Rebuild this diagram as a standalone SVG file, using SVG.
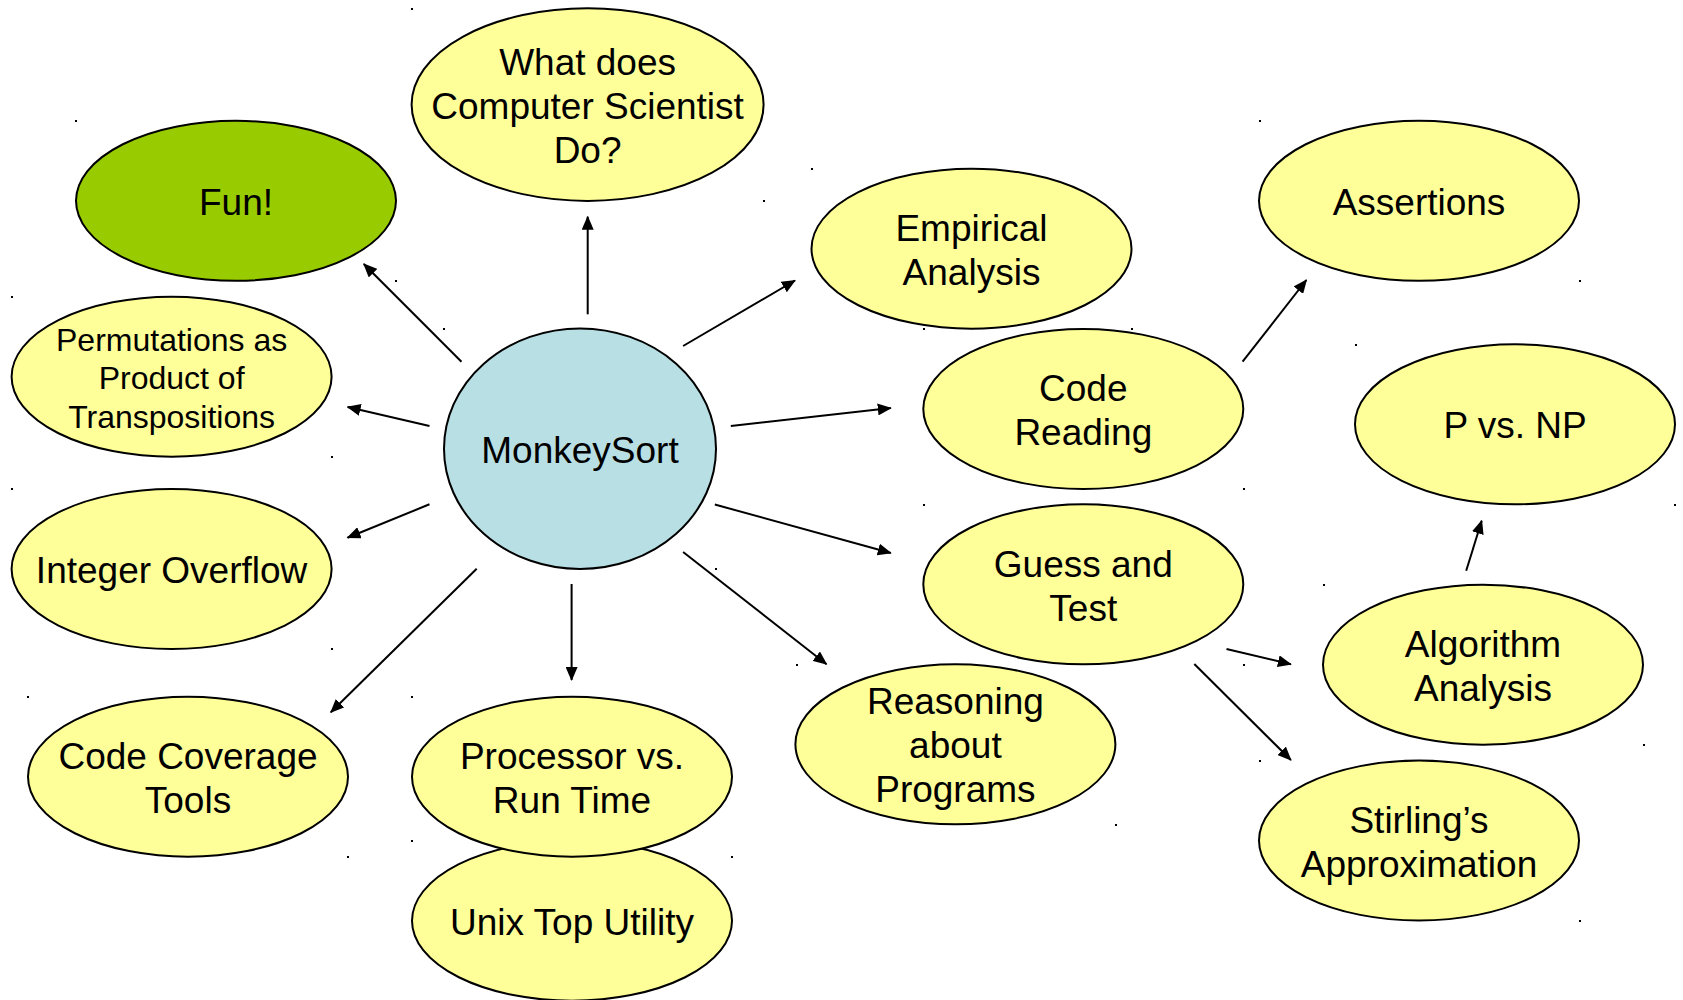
<svg xmlns="http://www.w3.org/2000/svg" width="1683" height="1000" viewBox="0 0 1683 1000">
<style>
.n{fill:#FFFF99;stroke:#000;stroke-width:2}
.g{fill:#99CC00;stroke:#000;stroke-width:2}
.b{fill:#B8DFE3;stroke:#000;stroke-width:2}
text{font-family:"Liberation Sans",Arial,sans-serif;font-size:37px;fill:#000;text-anchor:middle}
.s{font-size:32px}
.d{fill:#000}
.c line{stroke:#000;stroke-width:2;marker-end:url(#ah)}
</style>
<defs>
<marker id="ah" viewBox="0 0 14 12" refX="13" refY="6" markerWidth="14" markerHeight="12" markerUnits="userSpaceOnUse" orient="auto">
<path d="M0,0 L14,6 L0,12 Z" fill="#000"/>
</marker>
</defs>
<rect width="1683" height="1000" fill="#fff"/>

<g id="unix">
<ellipse class="n" cx="572" cy="920.7" rx="160" ry="80"/>
<text x="572" y="935">Unix Top Utility</text>
<rect class="d" x="411" y="840" width="2" height="2"/>
</g>
<g id="processor">
<ellipse class="n" cx="572" cy="776.7" rx="160" ry="80"/>
<text x="572" y="769">Processor vs.</text>
<text x="572" y="813">Run Time</text>
<rect class="d" x="411" y="696" width="2" height="2"/>
<rect class="d" x="731" y="856" width="2" height="2"/>
</g>
<g id="whatdoes">
<ellipse class="n" cx="587.6" cy="104.6" rx="176" ry="96.3"/>
<text x="587.6" y="75">What does</text>
<text x="587.6" y="119">Computer Scientist</text>
<text x="587.6" y="163">Do?</text>
<rect class="d" x="411" y="8" width="2" height="2"/>
<rect class="d" x="763" y="200" width="2" height="2"/>
</g>
<g id="fun">
<ellipse class="g" cx="236" cy="200.8" rx="160" ry="80"/>
<text x="236" y="215">Fun!</text>
<rect class="d" x="75" y="120" width="2" height="2"/>
<rect class="d" x="395" y="280" width="2" height="2"/>
</g>
<g id="permutations">
<ellipse class="n" cx="171.6" cy="376.7" rx="160" ry="80"/>
<text class="s" x="171.6" y="350.5">Permutations as</text>
<text class="s" x="171.6" y="389">Product of</text>
<text class="s" x="171.6" y="427.5">Transpositions</text>
<rect class="d" x="11" y="296" width="2" height="2"/>
<rect class="d" x="331" y="456" width="2" height="2"/>
</g>
<g id="monkeysort">
<ellipse class="b" cx="580" cy="448.7" rx="136" ry="120.3"/>
<text x="580" y="463">MonkeySort</text>
<rect class="d" x="443" y="328" width="2" height="2"/>
<rect class="d" x="715" y="568" width="2" height="2"/>
</g>
<g id="integer">
<ellipse class="n" cx="171.6" cy="569" rx="160" ry="80"/>
<text x="171.6" y="583">Integer Overflow</text>
<rect class="d" x="11" y="488" width="2" height="2"/>
<rect class="d" x="331" y="648" width="2" height="2"/>
</g>
<g id="codecoverage">
<ellipse class="n" cx="188" cy="776.7" rx="160" ry="80"/>
<text x="188" y="769">Code Coverage</text>
<text x="188" y="813">Tools</text>
<rect class="d" x="27" y="696" width="2" height="2"/>
<rect class="d" x="347" y="856" width="2" height="2"/>
</g>
<g id="empirical">
<ellipse class="n" cx="971.5" cy="248.7" rx="160" ry="80"/>
<text x="971.5" y="241">Empirical</text>
<text x="971.5" y="285">Analysis</text>
<rect class="d" x="811" y="168" width="2" height="2"/>
<rect class="d" x="1131" y="328" width="2" height="2"/>
</g>
<g id="codereading">
<ellipse class="n" cx="1083.3" cy="409" rx="160" ry="80"/>
<text x="1083.3" y="401">Code</text>
<text x="1083.3" y="445">Reading</text>
<rect class="d" x="923" y="328" width="2" height="2"/>
<rect class="d" x="1243" y="488" width="2" height="2"/>
</g>
<g id="assertions">
<ellipse class="n" cx="1419" cy="200.8" rx="160" ry="80"/>
<text x="1419" y="215">Assertions</text>
<rect class="d" x="1259" y="120" width="2" height="2"/>
<rect class="d" x="1579" y="280" width="2" height="2"/>
</g>
<g id="pvsnp">
<ellipse class="n" cx="1515" cy="424.3" rx="160" ry="80"/>
<text x="1515" y="438">P vs. NP</text>
<rect class="d" x="1355" y="344" width="2" height="2"/>
<rect class="d" x="1674" y="504" width="2" height="2"/>
</g>
<g id="guessandtest">
<ellipse class="n" cx="1083.3" cy="584.3" rx="160" ry="80"/>
<text x="1083.3" y="577">Guess and</text>
<text x="1083.3" y="621">Test</text>
<rect class="d" x="923" y="504" width="2" height="2"/>
<rect class="d" x="1243" y="664" width="2" height="2"/>
</g>
<g id="algorithm">
<ellipse class="n" cx="1483" cy="664.7" rx="160" ry="80"/>
<text x="1483" y="657">Algorithm</text>
<text x="1483" y="701">Analysis</text>
<rect class="d" x="1323" y="584" width="2" height="2"/>
<rect class="d" x="1643" y="744" width="2" height="2"/>
</g>
<g id="stirling">
<ellipse class="n" cx="1419" cy="840.5" rx="160" ry="80"/>
<text x="1419" y="833">Stirling’s</text>
<text x="1419" y="877">Approximation</text>
<rect class="d" x="1259" y="760" width="2" height="2"/>
<rect class="d" x="1579" y="920" width="2" height="2"/>
</g>
<g id="reasoning">
<ellipse class="n" cx="955.4" cy="744.3" rx="160" ry="80"/>
<text x="955.4" y="714">Reasoning</text>
<text x="955.4" y="758">about</text>
<text x="955.4" y="802">Programs</text>
<rect class="d" x="796" y="664" width="2" height="2"/>
<rect class="d" x="1115" y="824" width="2" height="2"/>
</g>

<g id="connectors" class="c">
<line x1="461.5" y1="361.7" x2="363.8" y2="264"/>
<line x1="587.7" y1="314.3" x2="587.7" y2="216.7"/>
<line x1="683.1" y1="346" x2="795" y2="280.5"/>
<line x1="429.5" y1="426" x2="347.6" y2="407"/>
<line x1="730.8" y1="426" x2="890.8" y2="408"/>
<line x1="1242.6" y1="361.7" x2="1306.4" y2="280"/>
<line x1="429.5" y1="504.3" x2="347.5" y2="537.7"/>
<line x1="714.8" y1="504.5" x2="890.8" y2="553"/>
<line x1="476.7" y1="568.7" x2="330.8" y2="712.3"/>
<line x1="571.6" y1="584" x2="571.6" y2="680"/>
<line x1="683.1" y1="552" x2="826.5" y2="664.2"/>
<line x1="1226.5" y1="649" x2="1290.9" y2="664.3"/>
<line x1="1194.3" y1="664" x2="1290.9" y2="760"/>
<line x1="1466.2" y1="570.7" x2="1481.7" y2="520.7"/>
</g>
</svg>
